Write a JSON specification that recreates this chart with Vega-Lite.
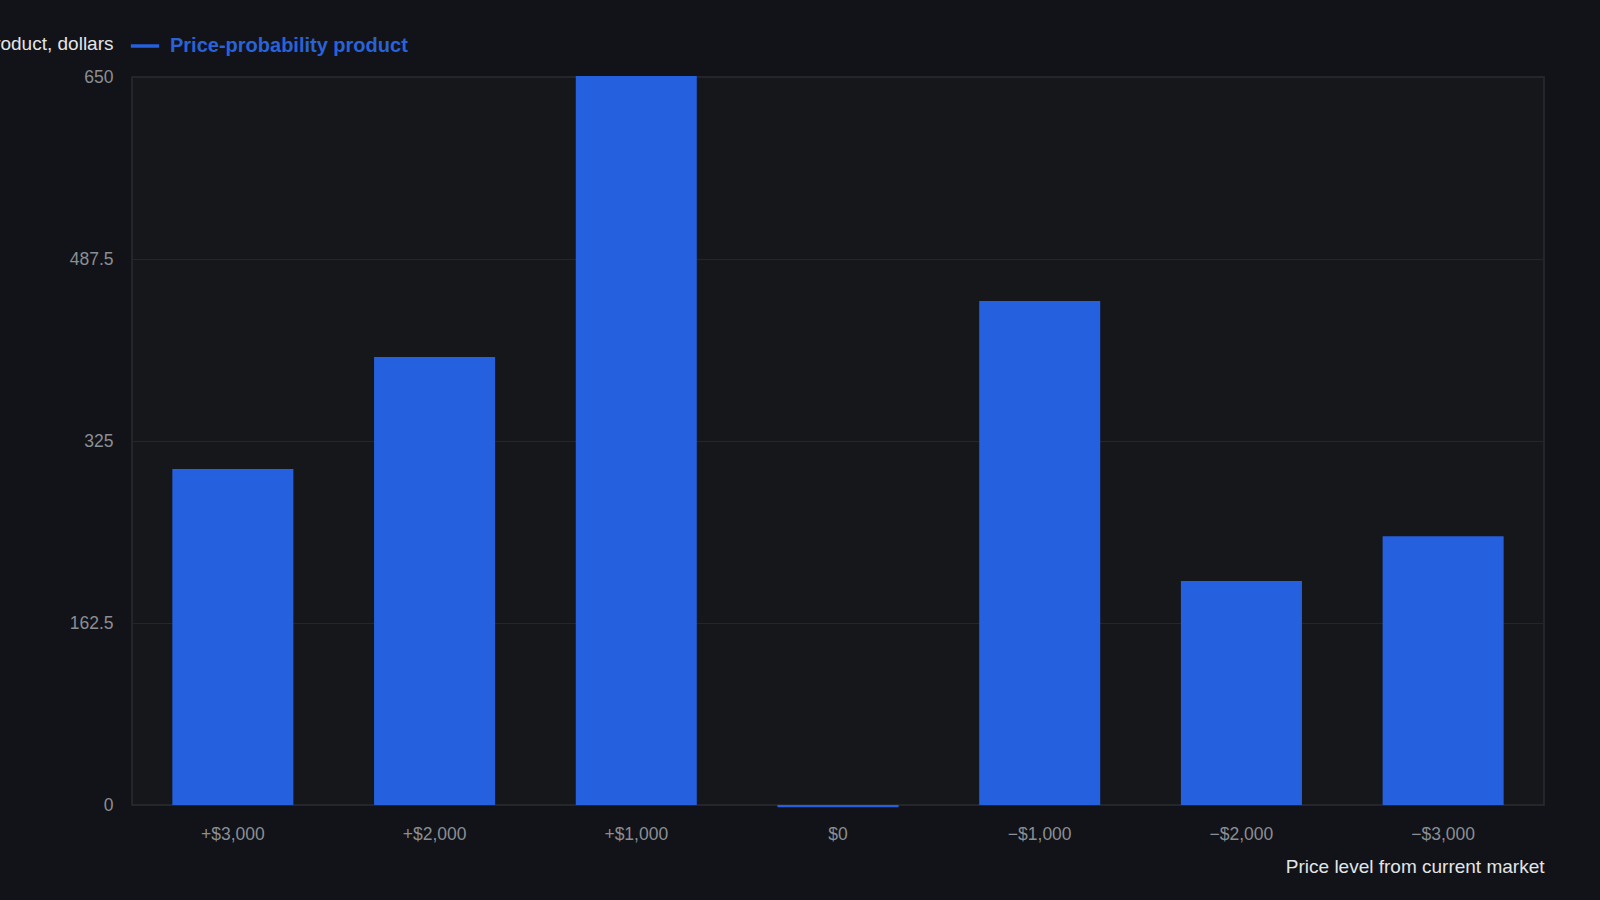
{
  "$schema": "https://vega.github.io/schema/vega-lite/v6.json",
  "autosize": "none",
  "width": 1412,
  "height": 728,
  "padding": {"left": 132, "top": 77, "right": 56, "bottom": 96},
  "background": "#111318",
  "data": {
    "values": [
      {"level": "+$3,000", "value": 300, "series": "Price-probability product"},
      {"level": "+$2,000", "value": 400, "series": "Price-probability product"},
      {"level": "+$1,000", "value": 651, "series": "Price-probability product"},
      {"level": "$0", "value": -2, "series": "Price-probability product"},
      {"level": "\u2212$1,000", "value": 450, "series": "Price-probability product"},
      {"level": "\u2212$2,000", "value": 200, "series": "Price-probability product"},
      {"level": "\u2212$3,000", "value": 240, "series": "Price-probability product"}
    ]
  },
  "mark": {"type": "bar"},
  "encoding": {
    "x": {
      "field": "level",
      "type": "nominal",
      "sort": null,
      "scale": {"paddingInner": 0.4, "paddingOuter": 0.2},
      "axis": {
        "title": "Price level from current market",
        "labelAngle": 0,
        "ticks": false,
        "domain": false,
        "labelPadding": 20,
        "labelFontSize": 17.5,
        "labelColor": "#8b8e94",
        "titleFontSize": 19,
        "titleFontWeight": "normal",
        "titleColor": "#e4e5e7",
        "titleAnchor": "end",
        "titlePadding": 15
      }
    },
    "y": {
      "field": "value",
      "type": "quantitative",
      "scale": {"domain": [0, 650], "nice": false},
      "axis": {
        "title": "Price-probability product, dollars",
        "values": [0, 162.5, 325, 487.5, 650],
        "format": ".1~f",
        "ticks": false,
        "domain": false,
        "gridColor": "#24262b",
        "labelPadding": 19,
        "labelFontSize": 17.5,
        "labelColor": "#8b8e94",
        "titleAngle": 0,
        "titleAlign": "right",
        "titleBaseline": "middle",
        "titleX": -19,
        "titleY": -34,
        "titleFontSize": 19,
        "titleFontWeight": "normal",
        "titleColor": "#e4e5e7"
      }
    },
    "color": {
      "field": "series",
      "type": "nominal",
      "scale": {"range": ["#2560de"]},
      "legend": {
        "title": null,
        "orient": "none",
        "legendX": -3,
        "legendY": -47,
        "symbolType": "stroke",
        "symbolSize": 800,
        "symbolStrokeWidth": 3.5,
        "symbolStrokeColor": "#2560de",
        "labelColor": "#2a62d8",
        "labelFontSize": 20,
        "labelFontWeight": "bold",
        "labelOffset": 9,
        "labelLimit": 400
      }
    }
  },
  "config": {
    "font": "Liberation Sans",
    "view": {"fill": "#15171b", "stroke": "#2b2d31", "strokeWidth": 1.5}
  }
}
